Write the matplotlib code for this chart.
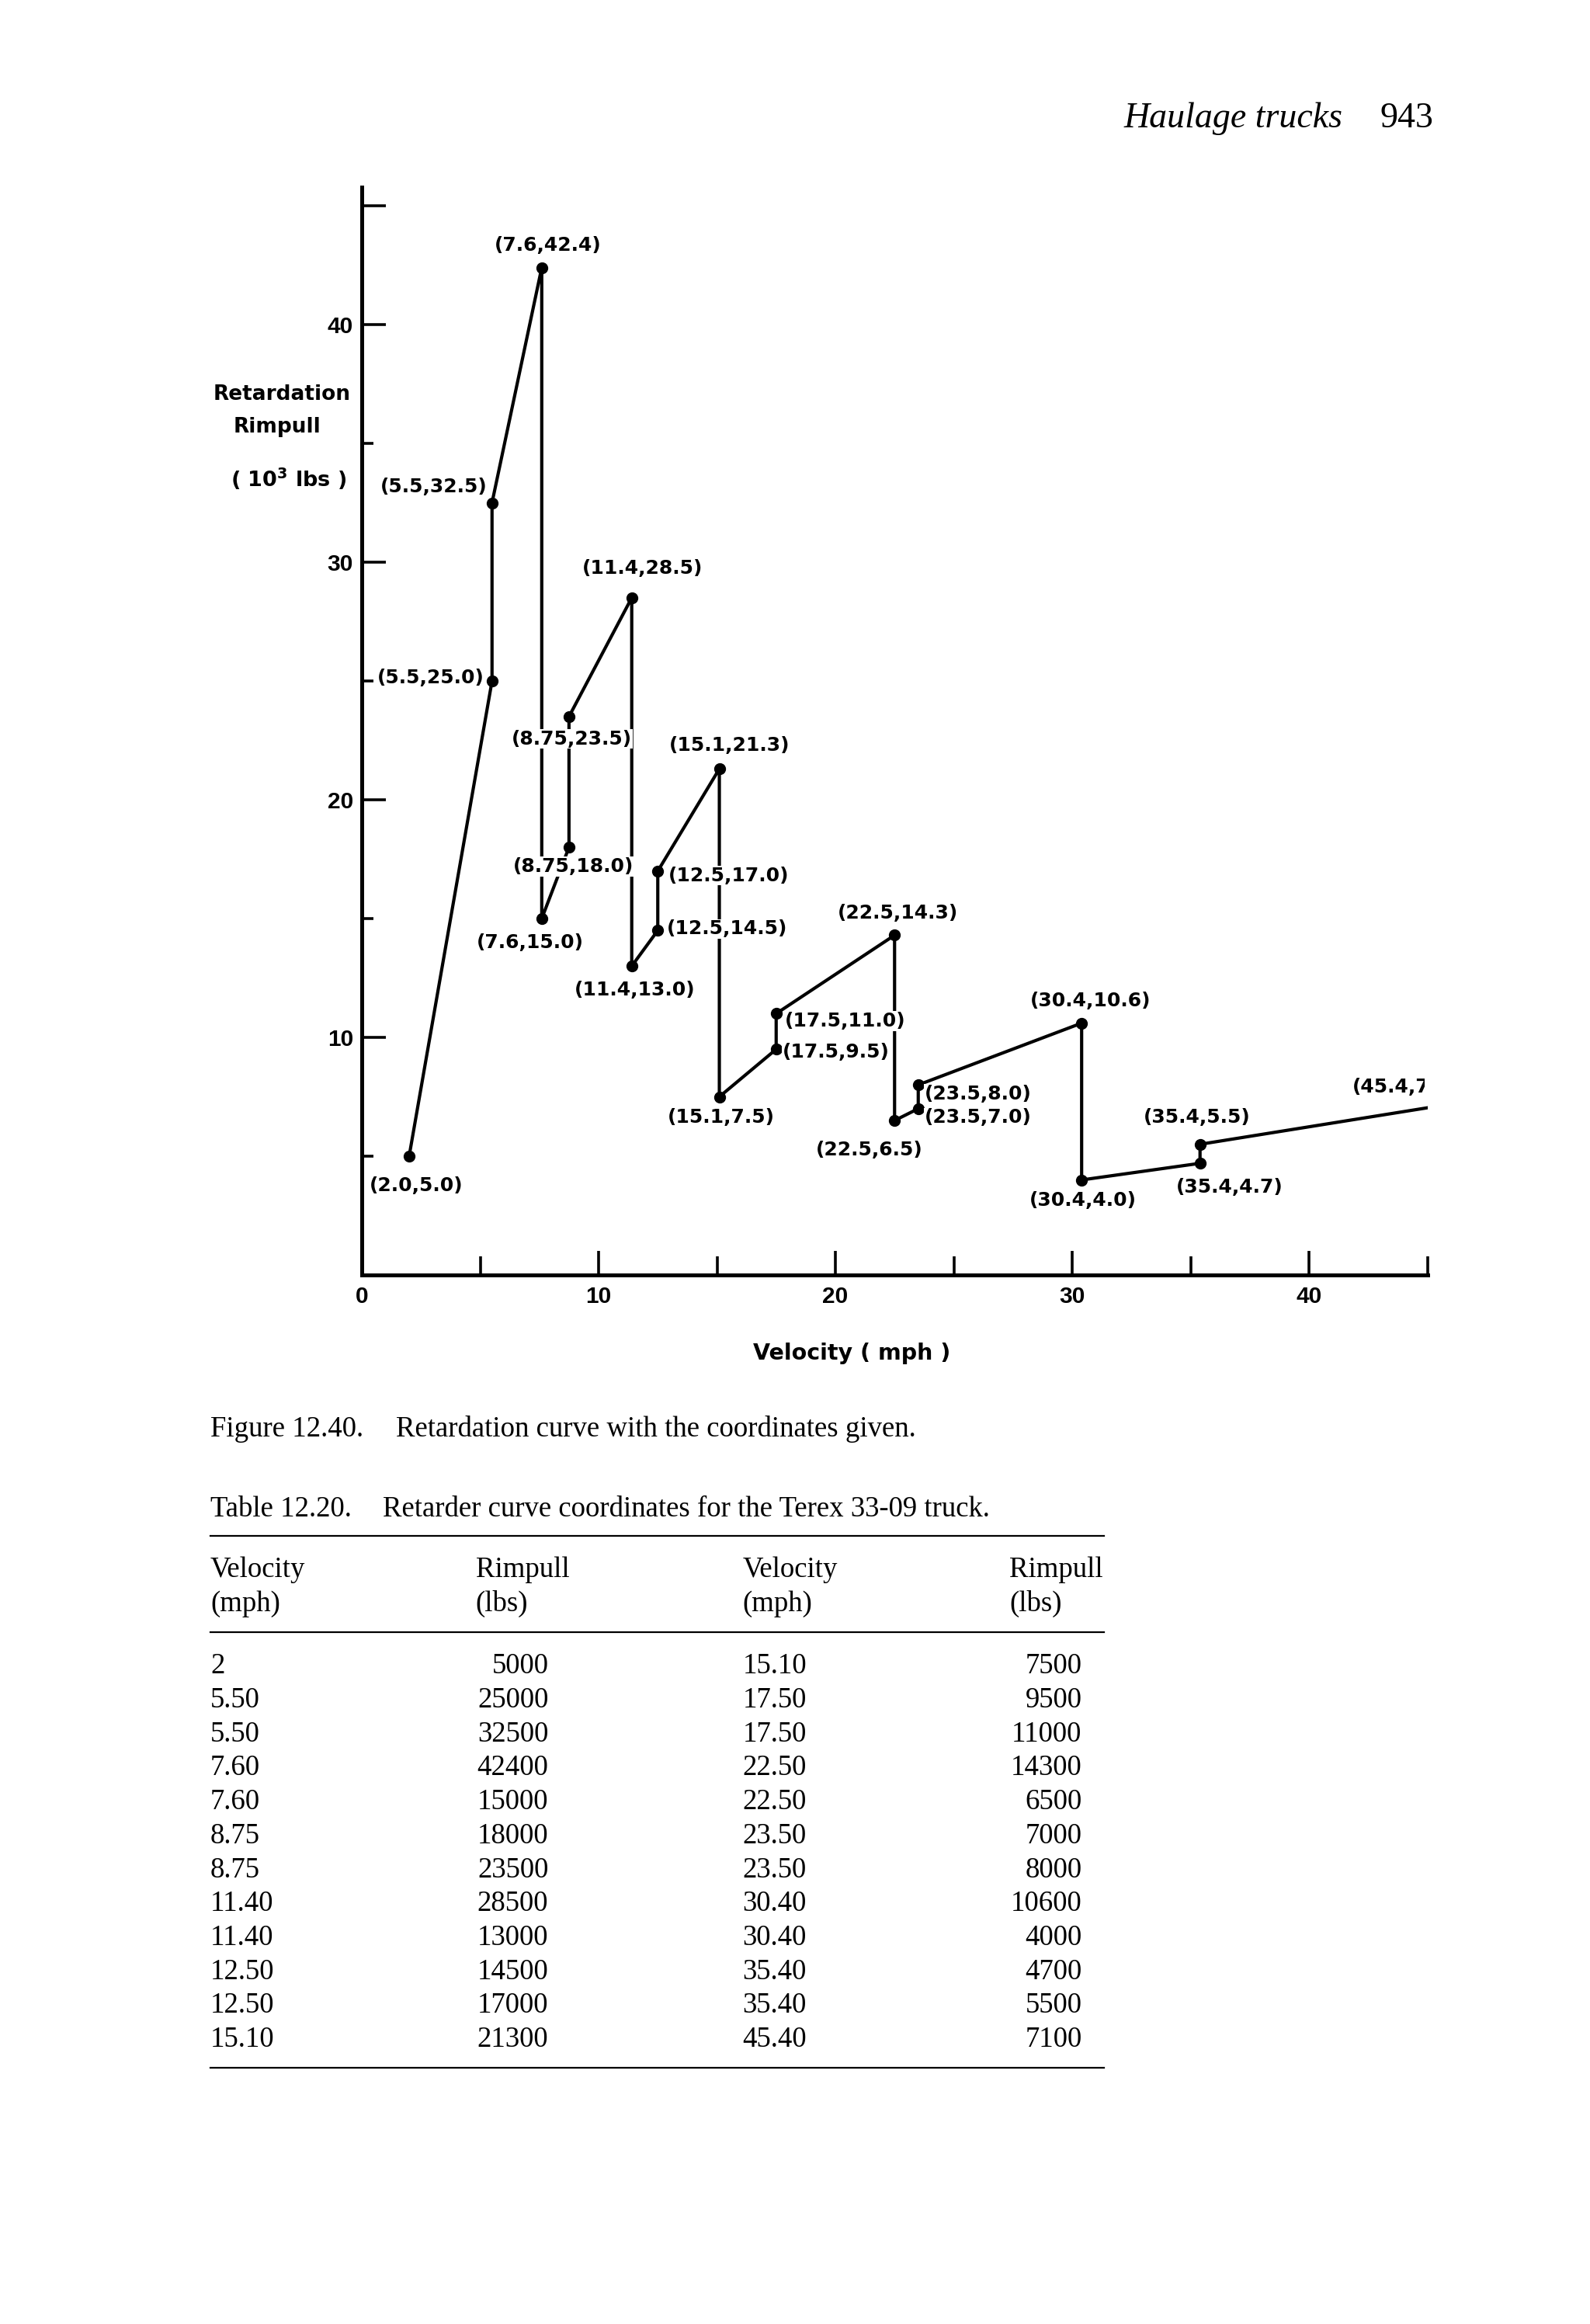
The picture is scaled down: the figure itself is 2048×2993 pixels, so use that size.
import matplotlib
matplotlib.use("Agg")
import matplotlib.pyplot as plt
from matplotlib.patches import Rectangle

# Terex 33-09 retarder curve (Table 12.20)
velocity = [2, 5.5, 5.5, 7.6, 7.6, 8.75, 8.75, 11.4, 11.4, 12.5, 12.5, 15.1,
            15.1, 17.5, 17.5, 22.5, 22.5, 23.5, 23.5, 30.4, 30.4, 35.4, 35.4, 45.4]
rimpull = [5000, 25000, 32500, 42400, 15000, 18000, 23500, 28500, 13000, 14500, 17000, 21300,
           7500, 9500, 11000, 14300, 6500, 7000, 8000, 10600, 4000, 4700, 5500, 7100]
x_ticks = [0, 10, 20, 30, 40]
x_minor = [5, 15, 25, 35, 45]
y_ticks = [10, 20, 30, 40, 45]
y_tick_labels = ['10', '20', '30', '40', '']
y_minor = [5, 15, 25, 35]

# label offsets from each point, in page units (dx, dy down, align)
label_pos = [(5, 20, 'center'), (-5, -2, 'right'), (-3, -11, 'right'), (4, -15, 'center'),
             (-8, 16, 'center'), (3, 13, 'center'), (2, 15, 'center'), (7, -20, 'center'),
             (2, 16, 'center'), (6, -1, 'left'), (7, 3, 'left'), (7, -16, 'center'),
             (1, 14, 'center'), (4, 2, 'left'), (6, 5, 'left'), (2, -15, 'center'),
             (-17, 20, 'center'), (4, 6, 'left'), (4, 6, 'left'), (6, -15, 'center'),
             (1, 14, 'center'), (20, 16, 'center'), (-2, -18, 'center'), (-57, -13, 'left')]

W, H = 2048, 2993
S = 1.909                      # page unit -> output pixel
PW, PH = W / S, H / S
SANS = 'DejaVu Sans'
TICKF = 'Liberation Sans'
SERIF = 'Liberation Serif'

plt.rcParams['font.family'] = SANS
plt.rcParams['font.weight'] = 'bold'


def num(v):
    s = f"{v:.2f}".rstrip('0')
    return s + '0' if s.endswith('.') else s


rk = [r / 1000 for r in rimpull]

fig = plt.figure(figsize=(W / 100, H / 100), dpi=100)
page = fig.add_axes([0, 0, 1, 1])
page.set_xlim(0, PW)
page.set_ylim(PH, 0)
page.axis('off')

# plot area in output pixels: origin (466, 1642), 30.5 px per mph, 30.6 px per 10^3 lbs
x0, y0, ymax = 466, 1642, 45.8
ax = fig.add_axes([x0 / W, 1 - y0 / H, 45 * 30.5 / W, ymax * 30.6 / H])
ax.patch.set_alpha(0)
ax.plot(velocity, rk, color='black', lw=3, marker='o', ms=10, zorder=2)
ax.set_xlim(0, 45)
ax.set_ylim(0, ymax)
ax.set_xticks(x_ticks)
ax.set_xticks(x_minor, minor=True)
ax.set_yticks(y_ticks, y_tick_labels)
ax.set_yticks(y_minor, minor=True)
ax.tick_params(which='both', direction='in', width=2.6, labelsize=21.5)
ax.tick_params(which='major', length=22)
ax.tick_params(axis='x', which='minor', length=17)
ax.tick_params(axis='y', which='minor', length=11)
ax.tick_params(axis='x', pad=10)
ax.tick_params(axis='y', pad=8)
for lab in ax.get_xticklabels() + ax.get_yticklabels():
    lab.set_fontfamily(TICKF)
for s in ['top', 'right']:
    ax.spines[s].set_visible(False)
for s in ['left', 'bottom']:
    ax.spines[s].set_linewidth(3.6)

# the scan stops just past 45 mph; labels knock the lines out behind them
clip = Rectangle((0, 0), 961, PH, transform=page.transData)
for v, r, (dx, dy, ha) in zip(velocity, rk, label_pos):
    t = ax.annotate(f"({num(v)},{r:.1f})", (v, r), xytext=(dx * S, -dy * S),
                    textcoords='offset pixels', ha=ha, va='center', fontsize=18,
                    fontweight='bold', annotation_clip=False, clip_on=True, zorder=3,
                    bbox=dict(facecolor='white', edgecolor='none', pad=0.6))
    t.set_clip_path(clip)

# axis titles
page.text(190, 266, 'Retardation', ha='center', va='center', fontsize=19)
page.text(187, 288, 'Rimpull', ha='center', va='center', fontsize=19)
page.text(195, 323, '( 10$^{3}$ lbs )', ha='center', va='center', fontsize=19.5)
page.text(575, 913, 'Velocity ( mph )', ha='center', va='center', fontsize=20.5)

# running head
page.text(906, 86, 'Haulage trucks', ha='right', va='baseline', fontsize=33,
          family=SERIF, style='italic', weight='normal')
page.text(967, 86, '943', ha='right', va='baseline', fontsize=33, family=SERIF, weight='normal')

serif = dict(family=SERIF, weight='normal', fontsize=26.5, va='baseline')
page.text(142, 969, 'Figure 12.40.', ha='left', **serif)
page.text(267, 969, 'Retardation curve with the coordinates given.', ha='left', **serif)
page.text(142, 1023, 'Table 12.20.', ha='left', **serif)
page.text(258, 1023, 'Retarder curve coordinates for the Terex 33-09 truck.', ha='left', **serif)

# table
for y in [1036, 1101, 1395]:
    page.plot([142, 745], [y, y], color='black', lw=1.6)
cols = [142, 321, 501, 681]
for x, h in zip(cols, ['Velocity', 'Rimpull', 'Velocity', 'Rimpull']):
    page.text(x, 1064, h, ha='left', **serif)
for x, h in zip(cols, ['(mph)', '(lbs)', '(mph)', '(lbs)']):
    page.text(x, 1087, h, ha='left', **serif)


def tv(v):
    return '%g' % v if v == int(v) else '%.2f' % v


n = len(velocity) // 2
for i in range(n):
    y = 1129 + i * 22.9
    page.text(142, y, tv(velocity[i]), ha='left', **serif)
    page.text(370, y, str(rimpull[i]), ha='right', **serif)
    page.text(501, y, tv(velocity[n + i]), ha='left', **serif)
    page.text(730, y, str(rimpull[n + i]), ha='right', **serif)

fig.savefig('out.png', dpi=100)
